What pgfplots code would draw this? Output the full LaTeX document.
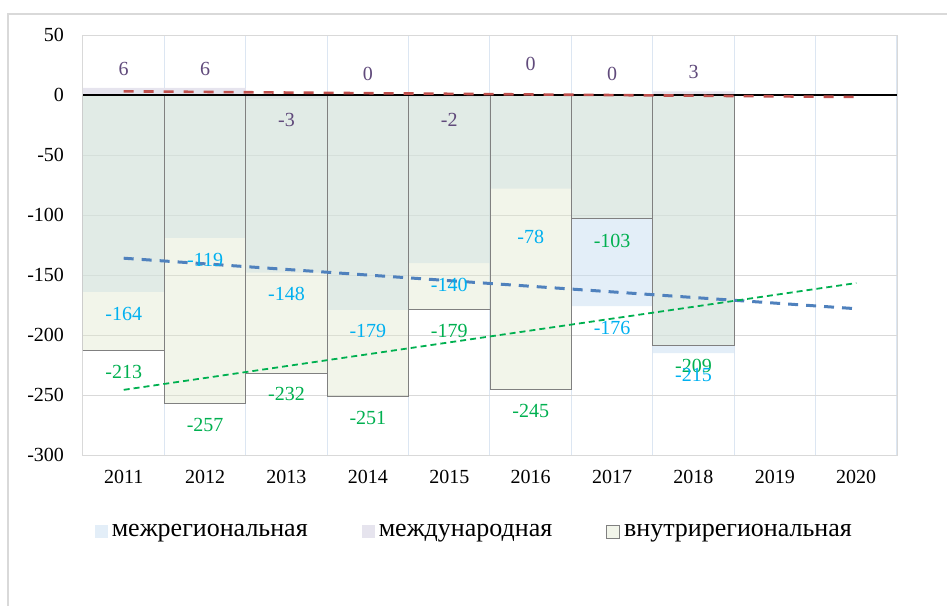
\documentclass[border=0pt]{standalone}
\usepackage{fontspec}
\setmainfont{Liberation Serif}
\usepackage{pgfplots}
\usepackage{pgfplotstable}
\pgfplotsset{compat=1.18}

\definecolor{mezhreg}{RGB}{199,221,241}
\definecolor{mezhdun}{RGB}{230,228,238}
\definecolor{vnutr}{RGB}{223,230,203}
\definecolor{legblue}{RGB}{227,238,248}
\definecolor{legbeige}{RGB}{242,245,234}
\definecolor{lblblue}{RGB}{0,176,240}
\definecolor{lblgreen}{RGB}{0,176,80}
\definecolor{lblpurple}{RGB}{96,74,123}
\definecolor{trendblue}{RGB}{79,129,189}
\definecolor{trendred}{RGB}{192,80,77}
\definecolor{gridgray}{RGB}{217,217,217}
\definecolor{gridblue}{RGB}{220,230,242}

\pgfplotstableread{
year mezhreg mezhdun vnutr
2011 -164 6 -213
2012 -119 6 -257
2013 -148 -3 -232
2014 -179 0 -251
2015 -140 -2 -179
2016 -78 0 -245
2017 -176 0 -103
2018 -215 3 -209
}\flows

\begin{document}
\begin{tikzpicture}
\useasboundingbox (-41.5pt,-75pt) rectangle (432pt,227.5pt);
\begin{axis}[
    at={(0pt,0pt)}, anchor=south west,
    scale only axis,
    width=407pt, height=210pt,
    xmin=2010.5, xmax=2020.5,
    ymin=-300, ymax=50,
    xtick={2011,...,2020},
    ytick={-300,-250,...,50},
    minor xtick={2010.5,2011.5,...,2020.5},
    xminorgrids=true, ymajorgrids=true,
    major grid style={gridgray, line width=0.5pt},
    minor grid style={gridblue, line width=0.5pt},
    axis line style={gridgray, line width=0.5pt},
    major tick length=0pt, minor tick length=0pt,
    tick label style={font=\fontsize{10}{12}\selectfont},
    /pgf/number format/assume math mode=true,
    /pgf/number format/1000 sep={},
    yticklabel style={xshift=-6pt},
    xticklabel style={yshift=-4pt},
    legend image code/.code={\path[#1] (0pt,-3pt) rectangle (6.5pt,3.5pt);},
    legend style={at={(0.482,-0.184)}, anchor=center, draw=none, fill=none,
        font=\fontsize{13}{15}\selectfont, legend columns=3,
        /tikz/every even column/.append style={column sep=25pt}},
]
\addlegendimage{fill=legblue, draw=none}
\addlegendentry{межрегиональная}
\addlegendimage{fill=mezhdun, draw=none}
\addlegendentry{международная}
\addlegendimage{fill=legbeige, draw=gray, line width=0.4pt}
\addlegendentry{внутрирегиональная}

% bars, overlapping in one slot per year
\addplot[ybar, bar width=1, bar shift=0pt, fill=mezhdun, draw=none]
    table[x=year, y=mezhdun] {\flows};
\addplot[ybar, bar width=1, bar shift=0pt, fill=mezhreg, fill opacity=0.5, draw=none]
    table[x=year, y=mezhreg] {\flows};
\addplot[ybar, bar width=1, bar shift=0pt, fill=vnutr, fill opacity=0.4,
    draw=gray, line width=0.5pt]
    table[x=year, y=vnutr] {\flows};

\draw[black, line width=1pt] (axis cs:2010.5,0) -- (axis cs:2020.5,0);

% linear trends
\addplot[trendred, line width=1.3pt, dash pattern=on 5pt off 5pt]
    coordinates {(2011,3.08) (2020,-1.63)};
\addplot[trendblue, line width=1.5pt, dash pattern=on 5pt off 4pt]
    coordinates {(2011,-136.0) (2020,-178.1)};
\addplot[lblgreen, line width=0.9pt, dash pattern=on 3pt off 2pt]
    coordinates {(2011,-245.7) (2020,-156.7)};

% data labels
\begin{scope}[font=\fontsize{10}{12}\selectfont]
\node[text=lblpurple] at (axis cs:2011,22) {6};
\node[text=lblpurple] at (axis cs:2012,22) {6};
\node[text=lblpurple] at (axis cs:2013,-21) {-3};
\node[text=lblpurple] at (axis cs:2014,17.5) {0};
\node[text=lblpurple] at (axis cs:2015,-21) {-2};
\node[text=lblpurple] at (axis cs:2016,26) {0};
\node[text=lblpurple] at (axis cs:2017,17.5) {0};
\node[text=lblpurple] at (axis cs:2018,19.5) {3};

\node[text=lblgreen] at (axis cs:2011,-231) {-213};
\node[text=lblgreen] at (axis cs:2012,-275) {-257};
\node[text=lblgreen] at (axis cs:2013,-249) {-232};
\node[text=lblgreen] at (axis cs:2014,-269) {-251};
\node[text=lblgreen] at (axis cs:2015,-197) {-179};
\node[text=lblgreen] at (axis cs:2016,-263) {-245};
\node[text=lblgreen] at (axis cs:2017,-122) {-103};
\node[text=lblgreen] at (axis cs:2018,-226) {-209};

\node[text=lblblue] at (axis cs:2011,-182.5) {-164};
\node[text=lblblue] at (axis cs:2012,-137.5) {-119};
\node[text=lblblue] at (axis cs:2013,-166) {-148};
\node[text=lblblue] at (axis cs:2014,-197) {-179};
\node[text=lblblue] at (axis cs:2015,-158) {-140};
\node[text=lblblue] at (axis cs:2016,-118) {-78};
\node[text=lblblue] at (axis cs:2017,-194) {-176};
\node[text=lblblue] at (axis cs:2018,-233) {-215};
\end{scope}
\end{axis}
% chart frame (cut at right and bottom)
\draw[gridgray, line width=1pt] (-37.25pt,-80pt) -- (-37.25pt,220.5pt) -- (440pt,220.5pt);
\end{tikzpicture}
\end{document}
